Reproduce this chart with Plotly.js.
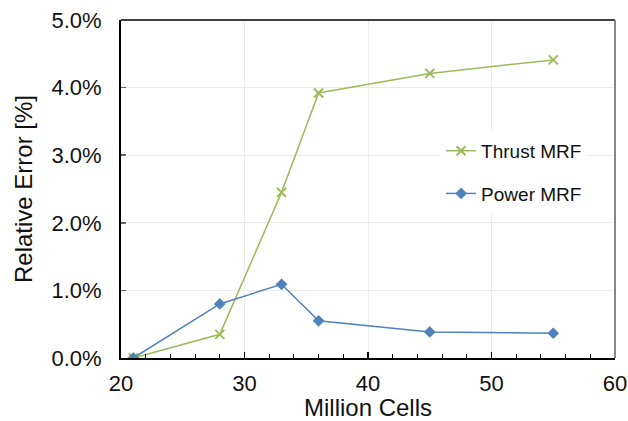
<!DOCTYPE html>
<html>
<head>
<meta charset="utf-8">
<script src="https://cdn.plot.ly/plotly-3.0.1.min.js"></script>
<style>
  html, body { margin: 0; padding: 0; background: #fff; }
  #chart { width: 628px; height: 421px; }
</style>
</head>
<body>
<div id="chart"></div>
<script>
// Mesh size in million cells
const cells = [21, 28, 33, 36, 45, 55];
// Relative error in percent
const thrustMRF = [0.0, 0.35, 2.45, 3.92, 4.21, 4.41];
const powerMRF = [0.0, 0.80, 1.09, 0.55, 0.385, 0.366];

const green = '#9BBB59';
const blue = '#4F81BD';
const font = 'Liberation Sans, Arial, sans-serif';
const ink = '#111';

const traces = [
  {
    x: cells, y: thrustMRF, name: 'Thrust MRF', legendgroup: 'a',
    type: 'scatter', mode: 'lines+markers',
    line: { color: green, width: 1.5 },
    marker: { symbol: 'x-thin', size: 9, color: green, line: { color: green, width: 2 } }
  },
  {
    x: cells, y: powerMRF, name: 'Power MRF', legendgroup: 'b',
    type: 'scatter', mode: 'lines+markers',
    line: { color: blue, width: 1.5 },
    marker: { symbol: 'diamond', size: 9, color: blue }
  }
];

const layout = {
  width: 628, height: 421,
  margin: { l: 121, r: 13, t: 20, b: 63 },
  paper_bgcolor: '#fff', plot_bgcolor: '#fff',
  font: { family: font, color: ink },
  showlegend: true,
  legend: {
    x: 0.648, y: 0.669, xanchor: 'left', yanchor: 'top',
    bgcolor: '#fff', borderwidth: 0,
    font: { size: 19, family: font, color: ink },
    traceorder: 'grouped', tracegroupgap: 15,
    itemwidth: 30
  },
  xaxis: {
    range: [20, 60], dtick: 10, tick0: 20,
    showgrid: true, gridcolor: '#ebebeb', gridwidth: 1,
    zeroline: false,
    showline: true, linecolor: '#000', linewidth: 2, mirror: false,
    ticks: 'inside', ticklen: 6, tickcolor: '#000', tickwidth: 1.5,
    minor: { dtick: 2, ticks: 'inside', ticklen: 4, tickcolor: '#000', tickwidth: 1, showgrid: false },
    ticklabelstandoff: 5,
    tickfont: { size: 22, family: font, color: ink },
    title: { text: 'Million Cells', font: { size: 24, family: font, color: ink }, standoff: 0 }
  },
  yaxis: {
    range: [0, 5], dtick: 1,
    tickformat: '.1f', ticksuffix: '%',
    showgrid: true, gridcolor: '#ebebeb', gridwidth: 1,
    zeroline: false,
    showline: true, linecolor: '#000', linewidth: 2, mirror: false,
    ticks: 'inside', ticklen: 5, tickcolor: '#666', tickwidth: 1.5,
    ticklabelstandoff: 13,
    tickfont: { size: 22, family: font, color: ink },
    title: { text: 'Relative Error [%]', font: { size: 24, family: font, color: ink }, standoff: 12 }
  },
  shapes: [
    // top border
    { type: 'line', xref: 'paper', yref: 'paper', x0: 0, x1: 1, y0: 1, y1: 1,
      line: { color: '#000', width: 1.5 } },
    // right border
    { type: 'line', xref: 'paper', yref: 'paper', x0: 1, x1: 1, y0: 0, y1: 1,
      line: { color: '#888', width: 2 } }
  ]
};

Plotly.newPlot('chart', traces, layout, { staticPlot: true, displayModeBar: false });
</script>
</body>
</html>
